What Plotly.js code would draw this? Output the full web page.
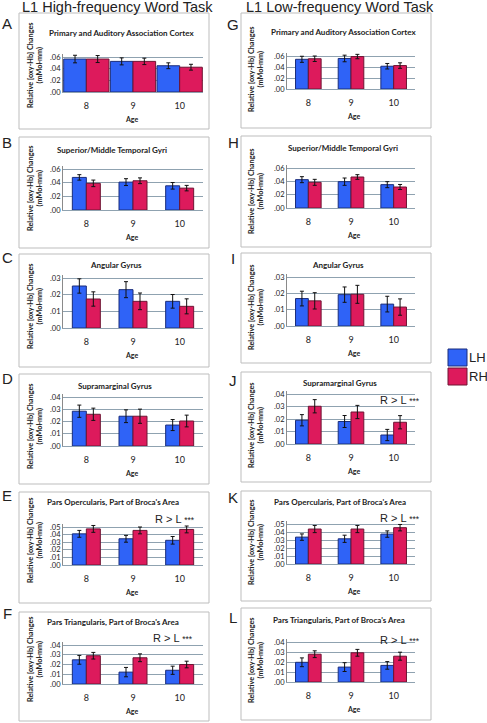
<!DOCTYPE html>
<html><head><meta charset="utf-8">
<script src="https://cdn.plot.ly/plotly-3.0.1.min.js"></script>
<style>body{margin:0;background:#fff}#chart{width:487px;height:723px}</style>
</head><body><div id="chart"></div>
<script>
// ---------- DATA ----------
const ages = ['8', '9', '10'];
const seriesNames = ['LH', 'RH'];
const columnTitles = ['L1 High-frequency Word Task', 'L1 Low-frequency Word Task'];
const panelLetters = ['A','B','C','D','E','F','G','H','I','J','K','L'];
const panelTitles = [
  'Primary and Auditory Association Cortex', 'Superior/Middle Temporal Gyri', 'Angular Gyrus',
  'Supramarginal Gyrus', "Pars Opercularis, Part of Broca's Area", "Pars Triangularis, Part of Broca's Area",
  'Primary and Auditory Association Cortex', 'Superior/Middle Temporal Gyri', 'Angular Gyrus',
  'Supramarginal Gyrus', "Pars Opercularis, Part of Broca's Area", "Pars Triangularis, Part of Broca's Area"
];
const sigText = 'R > L';
const sigStars = '***';
const xTitle = 'Age';
const yTitle = 'Relative [oxy-Hb] Changes';
const yUnit = '(mMol·mm)';

// tick values / labels
const ticks06 = [0, 0.02, 0.04, 0.06], ticks06Text = ['.00', '.02', '.04', '.06'];
const ticks03 = [0, 0.01, 0.02, 0.03], ticks03Text = ['.00', '.01', '.02', '.03'];
const ticks04 = [0, 0.01, 0.02, 0.03, 0.04], ticks04Text = ['.00', '.01', '.02', '.03', '.04'];
const ticks05 = [0, 0.01, 0.02, 0.03, 0.04, 0.05], ticks05Text = ['.00', '.01', '.02', '.03', '.04', '.05'];

// High-frequency task
const lhA = [0.0565, 0.0525, 0.045],  rhA = [0.0565, 0.0525, 0.0425];
const lhErrA = [0.0065, 0.006, 0.005], rhErrA = [0.006, 0.0055, 0.005];
const lhB = [0.0477, 0.0408, 0.0354], rhB = [0.0390, 0.0428, 0.0320];
const lhErrB = [0.0040, 0.0050, 0.0048], rhErrB = [0.0048, 0.0042, 0.0040];
const lhC = [0.0252, 0.0230, 0.0160], rhC = [0.0174, 0.0160, 0.0130];
const lhErrC = [0.0043, 0.0048, 0.0041], rhErrC = [0.0043, 0.0050, 0.0045];
const lhD = [0.0284, 0.0243, 0.0171], rhD = [0.0259, 0.0243, 0.0204];
const lhErrD = [0.0050, 0.0052, 0.0045], rhErrD = [0.0050, 0.0058, 0.0048];
const lhE = [0.0410, 0.0345, 0.0325], rhE = [0.0475, 0.0455, 0.0468];
const lhErrE = [0.0045, 0.0045, 0.0050], rhErrE = [0.0045, 0.0045, 0.0045];
const lhF = [0.0248, 0.0122, 0.0141], rhF = [0.0290, 0.0269, 0.0200];
const lhErrF = [0.0045, 0.0048, 0.0042], rhErrF = [0.0034, 0.0040, 0.0034];
// Low-frequency task
const lhG = [0.0540, 0.0555, 0.0414], rhG = [0.0550, 0.0590, 0.0426];
const lhErrG = [0.0055, 0.0060, 0.0050], rhErrG = [0.0050, 0.0040, 0.0050];
const lhH = [0.0425, 0.0395, 0.0350], rhH = [0.0385, 0.0465, 0.0315];
const lhErrH = [0.0045, 0.0055, 0.0045], rhErrH = [0.0045, 0.0035, 0.0038];
const lhI = [0.0168, 0.0192, 0.0134], rhI = [0.0154, 0.0194, 0.0116];
const lhErrI = [0.0045, 0.0047, 0.0048], rhErrI = [0.0050, 0.0055, 0.0050];
const lhJ = [0.0190, 0.0180, 0.0072], rhJ = [0.0302, 0.0256, 0.0174];
const lhErrJ = [0.0045, 0.0048, 0.0045], rhErrJ = [0.0053, 0.0053, 0.0053];
const lhK = [0.0336, 0.0315, 0.0374], rhK = [0.0437, 0.0437, 0.0454];
const lhErrK = [0.0040, 0.0045, 0.0040], rhErrK = [0.0045, 0.0045, 0.0040];
const lhL = [0.0197, 0.0149, 0.0166], rhL = [0.0278, 0.0292, 0.0258];
const lhErrL = [0.0044, 0.0044, 0.0038], rhErrL = [0.0034, 0.0034, 0.0040];

const lhSeries = [lhA, lhB, lhC, lhD, lhE, lhF, lhG, lhH, lhI, lhJ, lhK, lhL];
const rhSeries = [rhA, rhB, rhC, rhD, rhE, rhF, rhG, rhH, rhI, rhJ, rhK, rhL];
const lhErrors = [lhErrA, lhErrB, lhErrC, lhErrD, lhErrE, lhErrF, lhErrG, lhErrH, lhErrI, lhErrJ, lhErrK, lhErrL];
const rhErrors = [rhErrA, rhErrB, rhErrC, rhErrD, rhErrE, rhErrF, rhErrG, rhErrH, rhErrI, rhErrJ, rhErrK, rhErrL];
const tickSets = [ticks06, ticks06, ticks03, ticks04, ticks05, ticks04, ticks06, ticks06, ticks03, ticks04, ticks05, ticks04];
const tickTexts = [ticks06Text, ticks06Text, ticks03Text, ticks04Text, ticks05Text, ticks04Text,
                   ticks06Text, ticks06Text, ticks03Text, ticks04Text, ticks05Text, ticks04Text];
const hasSig = [false, false, false, false, true, true, false, false, false, true, true, true];

// ---------- LAYOUT GEOMETRY (pixels) ----------
const W = 487, H = 723;
const fx = p => p / W, fy = p => 1 - p / H;
const colPlotX = [[63, 203], [287, 415]];
const colBoxX = [[19, 209], [241, 431]];
// [boxTop, boxBottom, topGridPx, zeroPx, titleX, titleY, yTitleY, letterY]
const geom = [
  [13, 129, 57, 92, 121.5, 33, 65, 23],
  [137, 248, 169, 210, 111.5, 150, 188, 143],
  [254, 367, 278, 328, 116, 265, 306, 257],
  [374, 484, 397, 446, 115, 386, 426, 378],
  [492, 603, 527, 565, 112.5, 502, 540, 495],
  [612, 721, 645, 684, 112.5, 622, 659, 613],
  [13, 128, 56, 89, 343, 32, 69, 25],
  [136, 247, 168, 208, 342.5, 148, 191, 143],
  [253, 363, 277, 326, 337.5, 265, 307, 258],
  [372, 482, 394, 444, 340, 383, 425, 380],
  [491, 601, 524, 564, 340, 502, 542, 497],
  [608, 720, 642, 682, 339, 620, 660, 617]
];
const sigPos = [null, null, null, null, [197, 519], [195, 638], null, null, null, [422, 400], [422, 518], [422, 640]];

const blue = '#2f63f7', blueEdge = '#1b2d7a';
const red = '#dd1a5c', redEdge = '#6e1533';
const gridCol = '#8fa2b0';

const traces = [];
const layout = {
  width: W, height: H,
  margin: {l: 0, r: 0, t: 0, b: 0},
  paper_bgcolor: '#fff', plot_bgcolor: '#fff',
  showlegend: false,
  font: {family: 'Lato, "Open Sans", sans-serif', color: '#222'},
  annotations: [], shapes: []
};

for (let i = 0; i < 12; i++) {
  const n = i + 1;
  const col = i < 6 ? 0 : 1;
  const [bt, bb, topPx, zeroPx, tX, tY, ytY, letY] = geom[i];
  const ticks = tickSets[i];
  const topTick = ticks[ticks.length - 1];
  const ext = 3;
  const rangeMax = topTick * (zeroPx - topPx + ext) / (zeroPx - topPx);
  const xs = 'x' + (n === 1 ? '' : n), ys = 'y' + (n === 1 ? '' : n);
  const w = (i === 0) ? 0.485 : 0.30;

  traces.push({
    type: 'bar', name: seriesNames[0], x: ages, y: lhSeries[i], xaxis: xs, yaxis: ys,
    width: w, offset: -w,
    marker: {color: blue, line: {color: blueEdge, width: 1}},
    error_y: {type: 'data', array: lhErrors[i], visible: true, color: '#111', thickness: 1, width: 2}
  });
  traces.push({
    type: 'bar', name: seriesNames[1], x: ages, y: rhSeries[i], xaxis: xs, yaxis: ys,
    width: w, offset: 0,
    marker: {color: red, line: {color: redEdge, width: 1}},
    error_y: {type: 'data', array: rhErrors[i], visible: true, color: '#111', thickness: 1, width: 2}
  });

  const xk = 'xaxis' + (n === 1 ? '' : n), yk = 'yaxis' + (n === 1 ? '' : n);
  layout[xk] = {
    domain: [fx(colPlotX[col][0]), fx(colPlotX[col][1])],
    anchor: ys, type: 'category', range: [-0.5, 2.5],
    showgrid: false, zeroline: false, showline: true, linecolor: gridCol, linewidth: 1,
    ticks: '', ticklabelstandoff: 5, tickfont: {size: 9, color: '#222', family: 'Lato, sans-serif'},
    fixedrange: true
  };
  layout[yk] = {
    domain: [fy(zeroPx), fy(zeroPx - (zeroPx - topPx + ext))],
    anchor: xs, range: [0, rangeMax],
    tickvals: ticks, ticktext: tickTexts[i],
    showgrid: true, gridcolor: gridCol, gridwidth: 1, zeroline: false,
    showline: true, linecolor: '#8a8a8a', linewidth: 1,
    ticks: '', tickfont: {size: 7.5, color: '#222', family: 'Lato, sans-serif'},
    fixedrange: true
  };

  // panel box
  layout.shapes.push({type: 'rect', xref: 'paper', yref: 'paper',
    x0: fx(colBoxX[col][0]), x1: fx(colBoxX[col][1]), y0: fy(bb), y1: fy(bt),
    line: {color: '#bdbdbd', width: 1}, layer: 'below'});

  // panel title
  layout.annotations.push({xref: 'paper', yref: 'paper', x: fx(tX), y: fy(tY),
    xanchor: 'center', yanchor: 'middle', showarrow: false,
    text: '<b>' + panelTitles[i] + '</b>', font: {size: 8, family: 'Lato, sans-serif', color: '#222'}});
  // x title
  layout.annotations.push({xref: 'paper', yref: 'paper', x: fx(col === 0 ? 131 : 353), y: fy(zeroPx + 27),
    xanchor: 'center', yanchor: 'middle', showarrow: false,
    text: '<b>' + xTitle + '</b>', font: {size: 7, family: 'Lato, sans-serif', color: '#222'}});
  // y title
  layout.annotations.push({xref: 'paper', yref: 'paper', x: fx(col === 0 ? 35 : 256), y: fy(ytY),
    xanchor: 'center', yanchor: 'middle', showarrow: false, textangle: -90,
    text: '<b>' + yTitle + '<br>' + yUnit + '</b>', font: {size: 7.3, family: 'Lato, sans-serif', color: '#222'}});
  // letter
  layout.annotations.push({xref: 'paper', yref: 'paper', x: fx(col === 0 ? 7 : 233), y: fy(letY),
    xanchor: 'center', yanchor: 'middle', showarrow: false,
    text: panelLetters[i], font: {size: 15, family: 'Liberation Sans, Arial, sans-serif', color: '#222'}});
  // significance
  if (hasSig[i]) {
    const [sx, sy] = sigPos[i];
    layout.annotations.push({xref: 'paper', yref: 'paper', x: fx(sx), y: fy(sy),
      xanchor: 'right', yanchor: 'middle', showarrow: false,
      text: sigText + ' <span style="font-size:8.5px">' + sigStars + '</span>',
      font: {size: 11, family: 'Liberation Sans, Arial, sans-serif', color: '#222'}});
  }
}

// column titles
[[117, columnTitles[0]], [339.5, columnTitles[1]]].forEach(([cx, t]) => {
  layout.annotations.push({xref: 'paper', yref: 'paper', x: fx(cx), y: fy(7),
    xanchor: 'center', yanchor: 'middle', showarrow: false, text: t,
    font: {size: 14.5, family: 'Liberation Sans, Arial, sans-serif', color: '#222'}});
});

// legend (drawn as key)
[[349, 366, blue, blueEdge, seriesNames[0]], [368, 385, red, redEdge, seriesNames[1]]].forEach(([y0, y1, c, e, t]) => {
  layout.shapes.push({type: 'rect', xref: 'paper', yref: 'paper',
    x0: fx(448), x1: fx(467), y0: fy(y1), y1: fy(y0), fillcolor: c, line: {color: e, width: 1}});
  layout.annotations.push({xref: 'paper', yref: 'paper', x: fx(467.5), y: fy((y0 + y1) / 2),
    xanchor: 'left', yanchor: 'middle', showarrow: false, text: t, borderpad: 0,
    font: {size: 13, family: '"Liberation Sans", Arial, sans-serif', color: '#222'}});
});

Plotly.newPlot('chart', traces, layout, {staticPlot: true, displayModeBar: false});
</script>
</body></html>
